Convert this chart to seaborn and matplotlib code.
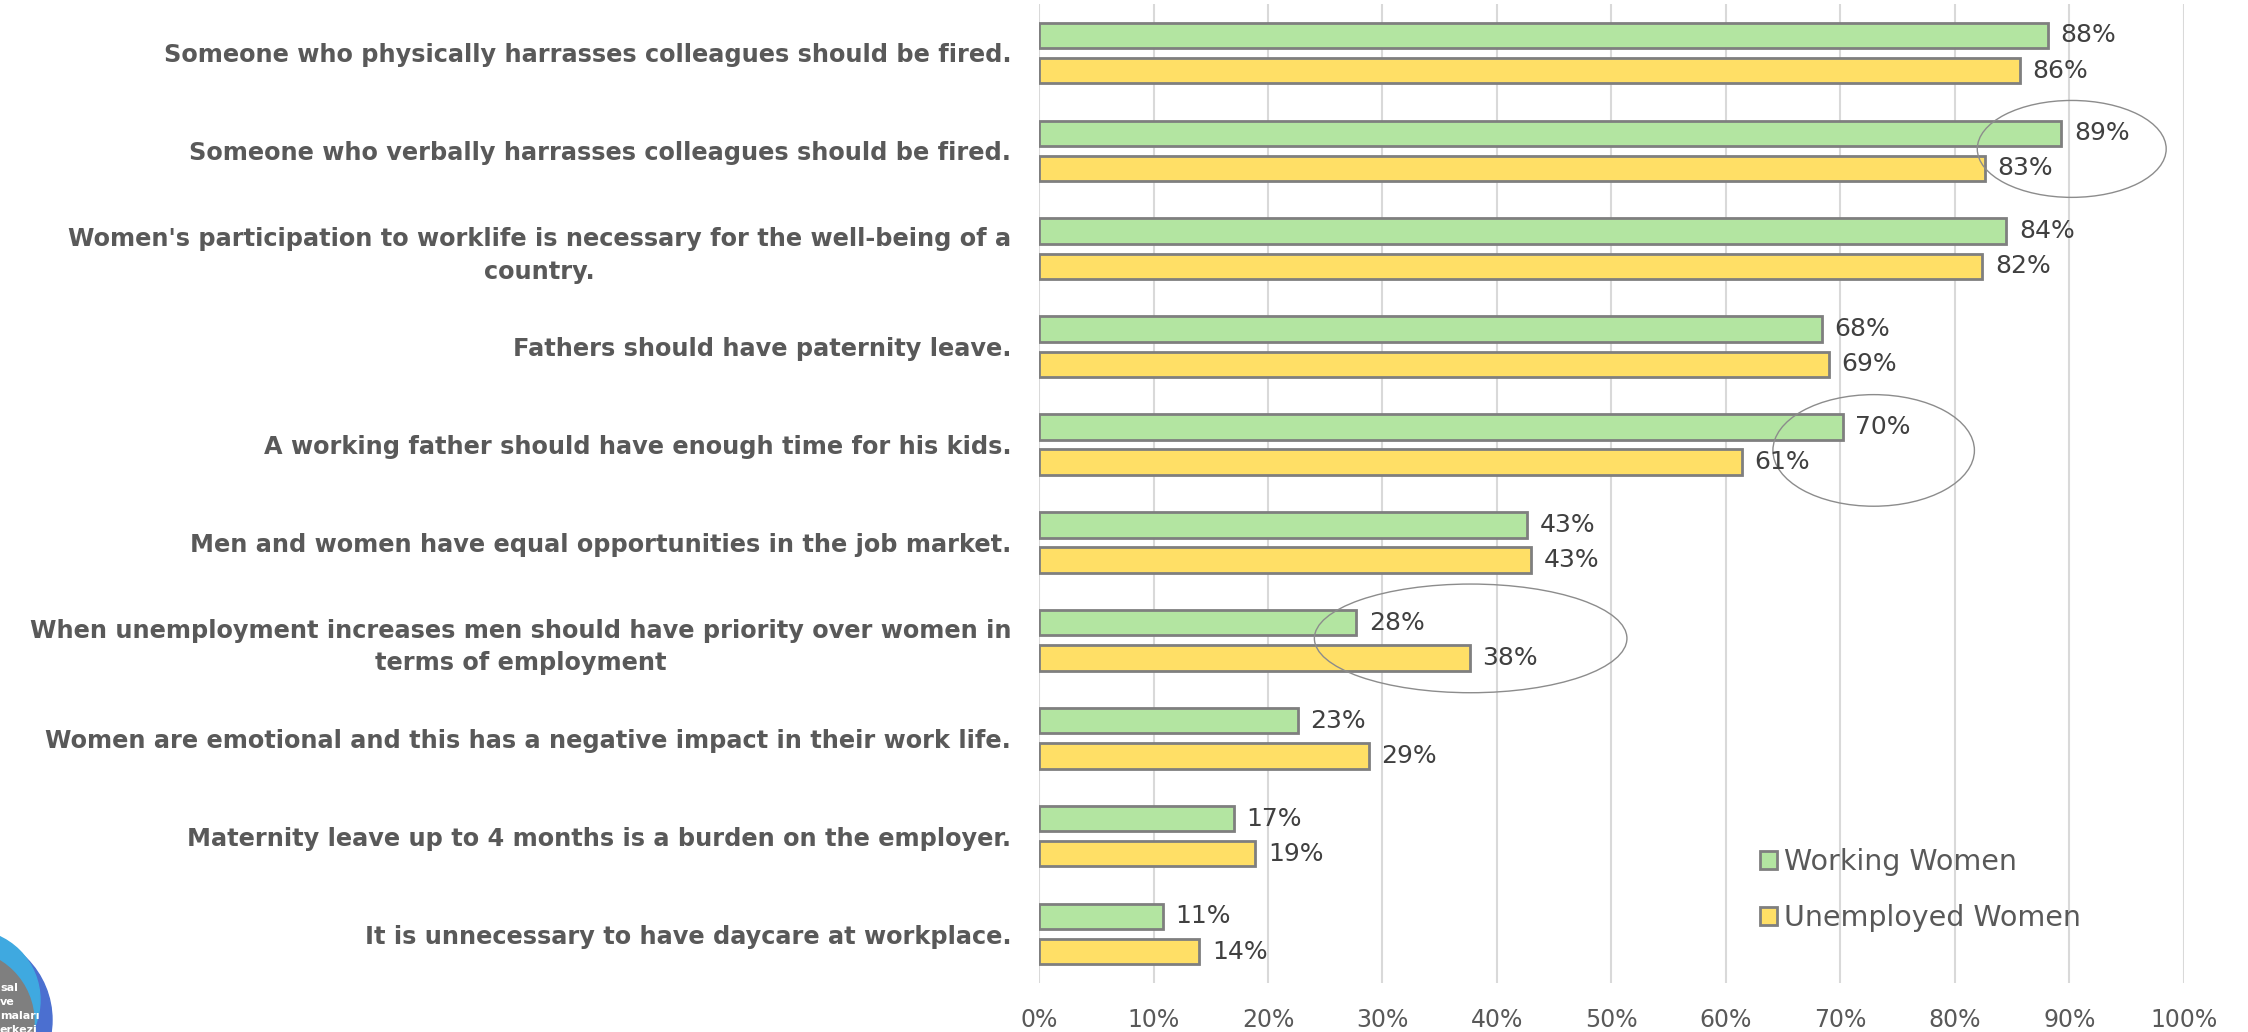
"""
Attitudes towards women's work life: working vs unemployed women
Horizontal grouped bar chart
"""

import pandas as pd
import matplotlib
matplotlib.use('Agg')  # no display
import matplotlib.pyplot as plt
from matplotlib.patches import Ellipse
import seaborn as sns

statements = [
    "Someone who physically harrasses colleagues should be fired.",
    "Someone who verbally harrasses colleagues should be fired.",
    "Women's participation to worklife is necessary for the well-being of a\ncountry.",
    "Fathers should have paternity leave.",
    "A working father should have enough time for his kids.",
    "Men and women have equal opportunities in the job market.",
    "When unemployment increases men should have priority over women in\nterms of employment",
    "Women are emotional and this has a negative impact in their work life.",
    "Maternity leave up to 4 months is a burden on the employer.",
    "It is unnecessary to have daycare at workplace.",
]
working = [88.1, 89.3, 84.5, 68.4, 70.2, 42.6, 27.7, 22.6, 17.0, 10.8]
unemployed = [85.7, 82.6, 82.4, 69.0, 61.4, 43.0, 37.6, 28.8, 18.9, 14.0]
groups = ["Working Women", "Unemployed Women"]
colors = ["#b3e5a1", "#ffdf66"]
x_ticks = list(range(0, 101, 10))

# highlighted statements: (x centre %, row position, width %, height rows)
highlights = [(90.2, 0.98, 16.5, 0.99), (72.9, 4.06, 17.6, 1.14), (37.7, 5.98, 27.3, 1.11)]

df = pd.DataFrame({
    "statement": statements * 2,
    "value": working + unemployed,
    "group": [groups[0]] * len(statements) + [groups[1]] * len(statements),
})

sns.set_style("white")
plt.rcParams["font.family"] = ["DejaVu Sans"]

fig = plt.figure(figsize=(22.48, 10.32), dpi=100)
ax = fig.add_axes([0.4622, 0.0475, 0.5093, 0.9486])

sns.barplot(data=df, y="statement", x="value", hue="group", palette=colors,
            saturation=1, orient="h", width=0.72, gap=0.28, edgecolor="#7f7f7f",
            linewidth=2, errorbar=None, ax=ax)

# value labels
for container, vals in zip(ax.containers, [working, unemployed]):
    ax.bar_label(container, labels=[f"{round(v)}%" for v in vals], padding=9,
                 fontsize=18, color="#404040")

ax.set_xlim(0, 100)
ax.set_xticks(x_ticks)
ax.set_xticklabels([f"{t}%" for t in x_ticks])
ax.tick_params(axis="x", length=0, pad=18, labelsize=17, labelcolor="#595959")
ax.tick_params(axis="y", length=0, pad=20, labelsize=17.3, labelcolor="#595959")
for t in ax.get_yticklabels():
    t.set_fontweight("bold")
    t.set_multialignment("center")
    t.set_linespacing(1.45)
ax.set_xlabel("")
ax.set_ylabel("")
ax.xaxis.grid(True, color="#d9d9d9", linewidth=1.5)
ax.set_axisbelow(True)
sns.despine(ax=ax, left=True, bottom=True)

for cx, cy, w, h in highlights:
    ax.add_patch(Ellipse((cx, cy), w, h, fill=False, edgecolor="#8c8c8c",
                         linewidth=1, clip_on=False))

handles, labels = ax.get_legend_handles_labels()
ax.legend(handles, labels, loc="center left", bbox_to_anchor=(0.783, 0.1376),
          bbox_transform=fig.transFigure, frameon=False, fontsize=20.5,
          handlelength=0.6, handleheight=0.6, handletextpad=0.25,
          labelspacing=1.0, borderpad=0, borderaxespad=0, labelcolor="#595959")

# partially visible institute logo in the bottom-left corner
W, H = 2248, 1032
fig.add_artist(Ellipse((-35 / W, 1 - 1020 / H), 2 * 87 / W, 2 * 87 / H,
                       transform=fig.transFigure, color="#4b6fd0", zorder=5))
fig.add_artist(Ellipse((-30 / W, 1 - 1000 / H), 2 * 70 / W, 2 * 70 / H,
                       transform=fig.transFigure, color="#3fa9e0", zorder=5))
fig.add_artist(Ellipse((-38 / W, 1 - 1022 / H), 2 * 72 / W, 2 * 72 / H,
                       transform=fig.transFigure, color="#7f7f7f", zorder=6))
for txt, py in [("sal", 988), ("ve", 1002), ("maları", 1016), ("erkezi", 1030)]:
    fig.text(0.0, 1 - py / H, txt, fontsize=8, fontweight="bold", color="white",
             va="center", ha="left", zorder=7)

fig.savefig("out.png", dpi=100)
